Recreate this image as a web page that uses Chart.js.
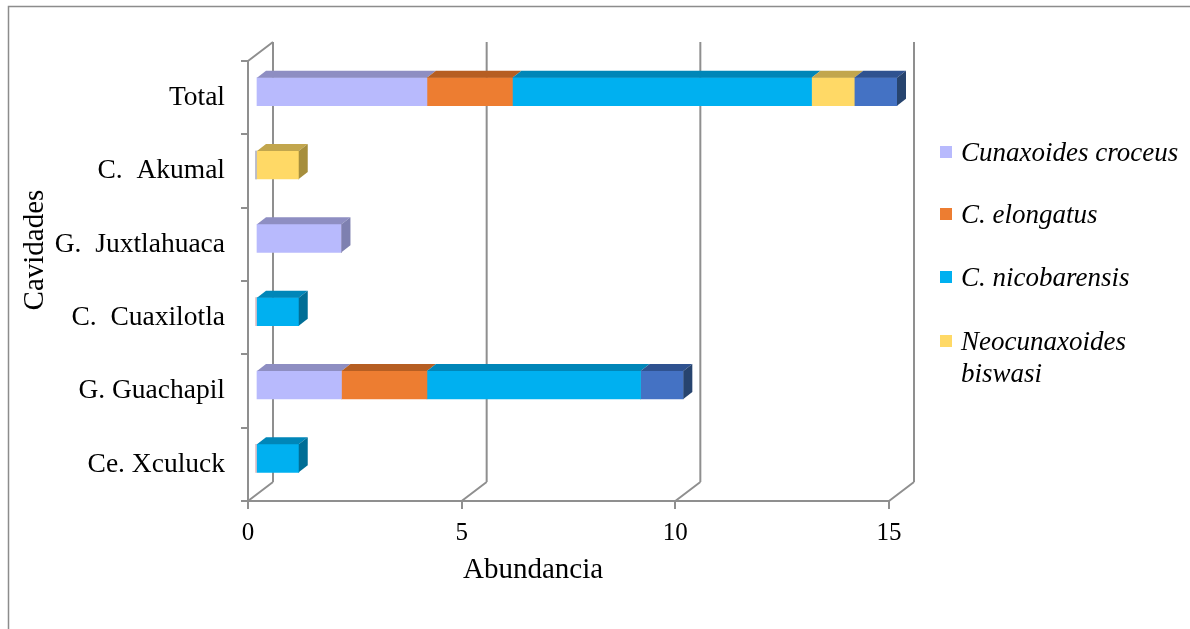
<!DOCTYPE html>
<html><head><meta charset="utf-8">
<script src="https://cdn.jsdelivr.net/npm/chart.js@4.4.1/dist/chart.umd.min.js"></script>
<style>html,body{margin:0;padding:0;background:#fff;}#wrap{width:1190px;height:629px;position:relative;}</style>
</head><body><div id="wrap"><canvas id="c" width="1190" height="629"></canvas></div>
<script>
// ---- data ----
const categories = ['Total', 'C.  Akumal', 'G.  Juxtlahuaca', 'C.  Cuaxilotla', 'G. Guachapil', 'Ce. Xculuck'];
const croceus      = [4, 0, 2, 0, 2, 0];
const elongatus    = [2, 0, 0, 0, 2, 0];
const nicobarensis = [7, 0, 0, 1, 5, 1];
const biswasi      = [1, 1, 0, 0, 0, 0];
const serie5       = [1, 0, 0, 0, 1, 0];
const xTicks = [0, 5, 10, 15];
const seriesNames = ['Cunaxoides croceus', 'C. elongatus', 'C. nicobarensis', 'Neocunaxoides biswasi', 'Serie 5'];
const legendLines = [['Cunaxoides croceus'], ['C. elongatus'], ['C. nicobarensis'], ['Neocunaxoides', 'biswasi']];

// ---- styles ----
const seriesData = [croceus, elongatus, nicobarensis, biswasi, serie5];
const frontCol = ['#B8BAFD', '#ED7D31', '#00B0F0', '#FFD966', '#4472C4'];
const topCol   = ['#8E8EC2', '#B65E22', '#0086B8', '#C2A64D', '#2F5290'];
const sideCol  = ['#7E80B0', '#9A4E1C', '#006E96', '#A68E3C', '#27446F'];
const GRID = '#8f8f8f';
const SERIF = "'Liberation Serif', 'Times New Roman', serif";
const BAR_DX = 8, BAR_DY = -6;     // bar front plane offset
const FACE_DX = 9, FACE_DY = -7;   // bar depth
const WALL_DX = 25, WALL_DY = -19; // back wall offset

const threeD = {
  id: 'threeD',
  beforeDatasetsDraw(chart) {
    const ctx = chart.ctx, a = chart.chartArea, xs = chart.scales.x;
    ctx.save();
    ctx.strokeStyle = GRID; ctx.lineWidth = 2; ctx.lineCap = 'butt';
    ctx.beginPath();
    xTicks.forEach(v => {
      const px = xs.getPixelForValue(v);
      ctx.moveTo(px + WALL_DX, a.top + WALL_DY);
      ctx.lineTo(px + WALL_DX, a.bottom + WALL_DY);
      ctx.moveTo(px, a.bottom);
      ctx.lineTo(px + WALL_DX, a.bottom + WALL_DY);
    });
    ctx.moveTo(a.left, a.top);
    ctx.lineTo(a.left + WALL_DX, a.top + WALL_DY);
    ctx.stroke();
    ctx.restore();
    ctx.save();
    ctx.translate(BAR_DX, BAR_DY);
  },
  afterDatasetsDraw(chart) {
    const ctx = chart.ctx;
    const n = categories.length;
    const last = [];
    for (let j = 0; j < n; j++) {
      let l = -1;
      seriesData.forEach((s, i) => { if (s[j] > 0) l = i; });
      last.push(l);
    }
    seriesData.forEach((s, i) => {
      const meta = chart.getDatasetMeta(i);
      meta.data.forEach((el, j) => {
        if (!(s[j] > 0)) return;
        const p = el.getProps(['x', 'y', 'base', 'height'], true);
        const x1 = Math.min(p.x, p.base), x2 = Math.max(p.x, p.base);
        const y1 = p.y - p.height / 2, y2 = p.y + p.height / 2;
        ctx.fillStyle = topCol[i];
        ctx.beginPath();
        ctx.moveTo(x1, y1); ctx.lineTo(x2, y1);
        ctx.lineTo(x2 + FACE_DX, y1 + FACE_DY); ctx.lineTo(x1 + FACE_DX, y1 + FACE_DY);
        ctx.closePath(); ctx.fill();
        if (last[j] === i) {
          ctx.fillStyle = sideCol[i];
          ctx.beginPath();
          ctx.moveTo(x2, y1); ctx.lineTo(x2 + FACE_DX, y1 + FACE_DY);
          ctx.lineTo(x2 + FACE_DX, y2 + FACE_DY); ctx.lineTo(x2, y2);
          ctx.closePath(); ctx.fill();
        }
      });
    });
    ctx.restore();
  },
  afterDraw(chart) {
    const ctx = chart.ctx;
    ctx.save();
    // outer frame
    ctx.strokeStyle = '#8c8c8c'; ctx.lineWidth = 1.5;
    ctx.strokeRect(8.5, 6.5, 1300, 700);
    ctx.fillStyle = '#000';
    // axis titles
    ctx.font = '29px ' + SERIF;
    ctx.textAlign = 'center'; ctx.textBaseline = 'alphabetic';
    ctx.fillText('Abundancia', 533, 578);
    ctx.save();
    ctx.translate(43, 250); ctx.rotate(-Math.PI / 2);
    ctx.fillText('Cavidades', 0, 0);
    ctx.restore();
    // legend
    const centers = [152, 214, 277, 341];
    ctx.font = 'italic 27px ' + SERIF;
    ctx.textAlign = 'left';
    legendLines.forEach((lines, i) => {
      const c = centers[i];
      ctx.fillStyle = frontCol[i];
      ctx.fillRect(940, c - 6, 12, 12);
      ctx.fillStyle = '#000';
      lines.forEach((t, k) => ctx.fillText(t, 961, c + 9 + k * 32));
    });
    ctx.restore();
  }
};

new Chart(document.getElementById('c'), {
  type: 'bar',
  data: {
    labels: categories,
    datasets: seriesData.map((d, i) => ({
      label: seriesNames[i], data: d, backgroundColor: frontCol[i],
      borderWidth: 0, barThickness: 28, clip: false
    }))
  },
  options: {
    indexAxis: 'y', responsive: false, animation: false, devicePixelRatio: 1,
    layout: { padding: { left: 0, right: 301, top: 61, bottom: 0 } },
    plugins: { legend: { display: false }, tooltip: { enabled: false }, title: { display: false } },
    scales: {
      x: {
        stacked: true, min: 0, max: 15,
        afterBuildTicks: s => { s.ticks = xTicks.map(v => ({ value: v })); },
        afterFit: s => { s.height = 128; },
        grid: { drawOnChartArea: false, drawTicks: true, tickLength: 8, color: GRID, lineWidth: 2 },
        border: { display: true, color: GRID, width: 2 },
        ticks: { font: { family: SERIF, size: 25 }, color: '#000', padding: 9, maxRotation: 0 }
      },
      y: {
        stacked: true,
        afterFit: s => { s.width = 248; },
        grid: { drawOnChartArea: false, drawTicks: true, tickLength: 7, color: GRID, lineWidth: 2, offset: true },
        border: { display: true, color: GRID, width: 2 },
        ticks: { font: { family: SERIF, size: 27.5 }, color: '#000', padding: 16 }
      }
    }
  },
  plugins: [threeD]
});
</script></body></html>
